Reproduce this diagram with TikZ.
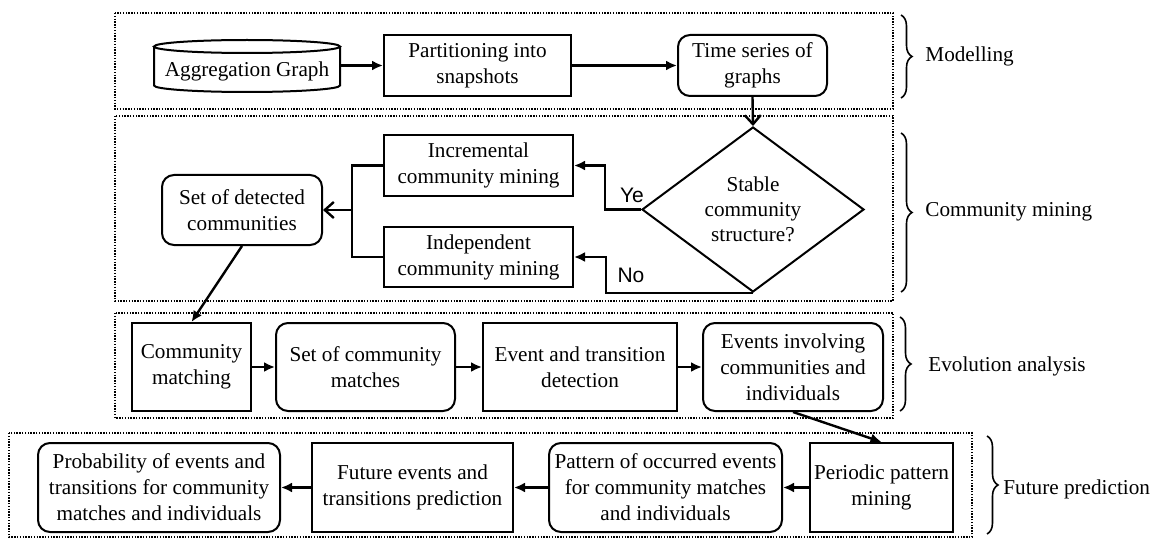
\documentclass[tikz,border=0pt]{standalone}
\usepackage{fontspec}
\setmainfont{Liberation Serif}
\newfontfamily\labsans{Liberation Sans}
\usetikzlibrary{arrows.meta,shapes.geometric,decorations.pathreplacing}
\tikzset{
  grp/.style={line width=0.7pt, dash pattern=on 0.7pt off 0.7pt},
  sq/.style={draw, line width=1pt, inner sep=0pt, align=center},
  rd/.style={draw, line width=1pt, inner sep=0pt, align=center, rounded corners=6pt},
  arr/.style={line width=1.2pt, -{Latex[length=5.5pt,width=5pt]}},
  barb/.style={line width=1.2pt, -{Straight Barb[length=4.5pt,width=8pt,line width=1.2pt]}},
  plain/.style={line width=1.2pt},
  brc/.style={line width=0.8pt, decorate, decoration={brace, amplitude=5.5pt}},
  lab/.style={anchor=west, inner sep=0pt},
  yn/.style={inner sep=0pt, font=\labsans\fontsize{10.5}{12}\selectfont},
}
\begin{document}
\begin{tikzpicture}[x=0.5pt, y=-0.5pt, font=\fontsize{10.6}{13}\selectfont]
\useasboundingbox (0,0) rectangle (1168,540);
% groups
\draw[grp] (115,13) rectangle (893,109);
\draw[grp] (115,116) rectangle (893,301);
\draw[grp] (115,313) rectangle (893,418);
\draw[grp] (9,433) rectangle (972,537);
% row 1
\node[inner sep=0pt, minimum width=93pt, minimum height=26pt] (agg) at (247,71) {Aggregation Graph};
\draw[line width=1pt] (154,46.5) -- (154,85.5) arc[start angle=180, end angle=360, x radius=46.5pt, y radius=3.25pt] -- (340,46.5);
\draw[line width=1pt] (247,46.5) ellipse [x radius=46.5pt, y radius=3.25pt];
\node[sq, minimum width=93.5pt, minimum height=30.5pt] (part) at (477.5,65.5) {Partitioning into\\snapshots};
\node[rd, minimum width=74.5pt, minimum height=30.5pt] (ts) at (752.5,65.5) {Time series of\\graphs};
\draw[arr] (agg.east |- part.west) -- (part.west);
\draw[arr] (part.east) -- (ts.west);
% row 2
\node[diamond, draw, line width=1pt, aspect=1.35, minimum width=111pt, minimum height=82.5pt, inner sep=0pt, align=center, font=\fontsize{10.6}{12.5}\selectfont] (dia) at (753,209.5) {Stable\\community\\structure?};
\draw[barb] (ts.south) -- (dia.north);
\node[sq, minimum width=94.5pt, minimum height=30.5pt] (inc) at (478.5,165.5) {Incremental\\community mining};
\node[sq, minimum width=94.5pt, minimum height=30pt] (ind) at (478.5,257) {Independent\\community mining};
\node[rd, minimum width=80pt, minimum height=35pt] (sdc) at (242,210) {Set of detected\\communities};
\draw[arr] (dia.west) -- ++(-36,0) |- (inc.east);
\draw[arr] (dia.south) -- ++(-147,0) |- (ind.east);
\node[yn] (ye) at (632,195) {Ye};
\node[yn] (no) at (631,275) {No};
\draw[plain] (inc.west) -- ++(-31,0) |- (ind.west);
\coordinate (mg) at (353,210);
\draw[barb] (mg) -- (sdc.east);
% row 3
\node[sq, minimum width=59.5pt, minimum height=44pt] (cm) at (191.5,367) {Community\\matching};
\node[rd, minimum width=89.5pt, minimum height=44pt] (scm) at (365.5,367) {Set of community\\matches};
\node[sq, minimum width=97pt, minimum height=44pt] (etd) at (580,367) {Event and transition\\detection};
\node[rd, minimum width=90pt, minimum height=44pt] (evi) at (793,367) {Events involving\\communities and\\individuals};
\draw[arr] (sdc.south) -- (cm.north);
\draw[arr] (cm.east) -- (scm.west);
\draw[arr] (scm.east) -- (etd.west);
\draw[arr] (etd.east) -- (evi.west);
% row 4
\node[rd, minimum width=121pt, minimum height=44.5pt] (prob) at (159,487.5) {Probability of events and\\transitions for community\\matches and individuals};
\node[sq, minimum width=100.5pt, minimum height=44.5pt] (fut) at (412.5,487.5) {Future events and\\transitions prediction};
\node[rd, minimum width=116.5pt, minimum height=44.5pt] (pat) at (665.5,487.5) {Pattern of occurred events\\for community matches\\and individuals};
\node[sq, minimum width=71.5pt, minimum height=44.5pt] (per) at (881.5,487.5) {Periodic pattern\\mining};
\draw[arr] (evi.south) -- (per.north);
\draw[arr] (per.west) -- (pat.east);
\draw[arr] (pat.west) -- (fut.east);
\draw[arr] (fut.west) -- (prob.east);
% braces
\draw[brc] (901,15) -- (901,98);
\node[lab] (lmod) at (925,56) {Modelling};
\draw[brc] (901,133) -- (901,292);
\node[lab] (lcm) at (925,212) {Community mining};
\draw[brc] (900,317) -- (900,411);
\node[lab] (lev) at (928,366) {Evolution analysis};
\draw[brc] (987,436) -- (987,534);
\node[lab] (lfp) at (1003,489) {Future prediction};
\end{tikzpicture}
\end{document}
